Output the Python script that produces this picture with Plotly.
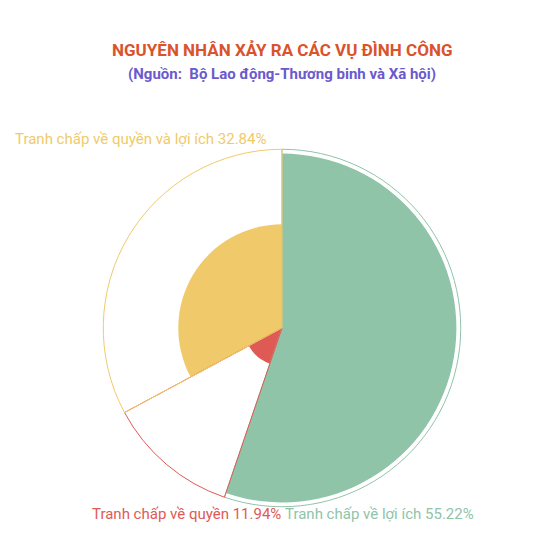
import plotly.graph_objects as go

names = ["Tranh chấp về lợi ích", "Tranh chấp về quyền", "Tranh chấp về quyền và lợi ích"]
values = [55.22, 11.94, 32.84]
colors = ["#8fc4a8", "#e05a55", "#f0ca6a"]

total = sum(values)
thetas, widths, start = [], [], 0.0
for v in values:
    w = v / total * 360
    thetas.append(start + w / 2)
    widths.append(w)
    start += w

W, H = 559, 553
def px(x): return (x - 8) / W
def py(y): return 1 - (y - 8) / H

cx, cy, R = 282, 328, 180

fig = go.Figure()
fig.add_trace(go.Barpolar(r=values, theta=thetas, width=widths,
                          marker=dict(color=colors, line=dict(width=0)),
                          text=names, showlegend=False))
fig.add_trace(go.Barpolar(r=[56.6] * 3, theta=thetas, width=widths,
                          marker=dict(color="rgba(255,255,255,0)", line=dict(color=colors, width=1)),
                          hoverinfo="skip", showlegend=False))

fig.update_layout(
    width=W, height=H, paper_bgcolor="white", plot_bgcolor="white",
    margin=dict(l=0, r=0, t=0, b=0),
    font=dict(family="Roboto"),
    polar=dict(domain=dict(x=[px(cx - R), px(cx + R)], y=[py(cy + R), py(cy - R)]),
               bgcolor="rgba(0,0,0,0)", bargap=0, barmode="overlay",
               radialaxis=dict(visible=False, range=[0, 57]),
               angularaxis=dict(visible=False, rotation=90, direction="clockwise")),
    annotations=[
        dict(text="<b>NGUYÊN NHÂN XẢY RA CÁC VỤ ĐÌNH CÔNG</b>", x=px(282), y=py(38), xref="paper", yref="paper",
             showarrow=False, font=dict(size=17, color="#d9532c")),
        dict(text="<b>(Nguồn:  Bộ Lao động-Thương binh và Xã hội)</b>", x=px(282), y=py(63), xref="paper", yref="paper",
             showarrow=False, font=dict(size=15, color="#6a5acd")),
        dict(text=f"{names[2]} {values[2]:.2f}%", x=px(13), y=py(128), xref="paper", yref="paper",
             xanchor="left", showarrow=False, font=dict(size=15, color=colors[2])),
        dict(text=f"{names[1]} {values[1]:.2f}%", x=px(283), y=py(525), xref="paper", yref="paper",
             xanchor="right", showarrow=False, font=dict(size=15, color=colors[1])),
        dict(text=f"{names[0]} {values[0]:.2f}%", x=px(283), y=py(525), xref="paper", yref="paper",
             xanchor="left", showarrow=False, font=dict(size=15, color=colors[0])),
    ],
)
fig.write_html("out.html")
